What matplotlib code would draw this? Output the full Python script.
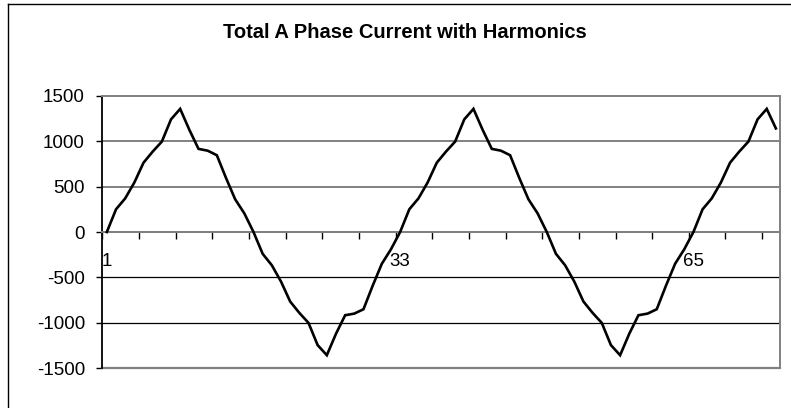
#!/usr/bin/env python3
import matplotlib
matplotlib.use("Agg")
import matplotlib.pyplot as plt
from matplotlib.lines import Line2D

plt.rcParams['font.family'] = ['Liberation Sans', 'DejaVu Sans']

# sample number (1-based categories) and phase A current
samples = list(range(1, 75))
current = [
    0, 250, 370, 545, 763, 885, 995, 1240, 1355, 1125, 915, 895, 845, 595, 360, 205,
    0, -240, -366, -545, -765, -890, -1000, -1245, -1356, -1120, -916, -898, -850, -592, -350, -190,
    0, 250, 370, 545, 763, 885, 995, 1240, 1355, 1125, 915, 895, 845, 595, 360, 205,
    0, -240, -366, -545, -765, -890, -1000, -1245, -1356, -1120, -916, -898, -850, -592, -350, -190,
    0, 250, 370, 545, 763, 885, 995, 1240, 1355, 1140,
]
x_labels = ["1", "33", "65"]
x_label_pos = [1, 33, 65]
y_ticks = [-1500, -1000, -500, 0, 500, 1000, 1500]

fig = plt.figure(figsize=(7.91, 4.08), dpi=100)
ax = fig.add_axes([0.1293, 0.0973, 0.8574, 0.6681])

# gridlines, upper ones look grey in the original, lower ones black
for v in [1000, 500, 0]:
    ax.axhline(v, color='#808080', lw=1.4, zorder=1)
for v in [-500, -1000]:
    ax.axhline(v, color='black', lw=0.9, zorder=1)

ax.plot(samples, current, color='black', lw=1.9, zorder=3, solid_joinstyle='miter')

ax.set_xlim(0.5, 74.5)
ax.set_ylim(-1500, 1500)

for side in ['top', 'right']:
    ax.spines[side].set_color('#808080')
    ax.spines[side].set_linewidth(1.4)
ax.spines['left'].set_color('black')
ax.spines['left'].set_linewidth(1.3)
ax.spines['bottom'].set_position(('data', 0))
ax.spines['bottom'].set_color('#808080')
ax.spines['bottom'].set_linewidth(1.4)
# bottom edge of plot area
ax.axhline(-1500, color='#808080', lw=1.6, zorder=2, clip_on=False)

ax.set_yticks(y_ticks)
ax.set_yticklabels([str(v) for v in y_ticks])
ax.tick_params(axis='y', direction='out', length=4.5, width=1.0, pad=8,
               labelsize=13.5, color='black')

ax.set_xticks([0.5 + 4 * k for k in range(19)])
ax.set_xticklabels([])
ax.tick_params(axis='x', which='major', direction='out', length=4.8, width=1.0,
               color='black')
ax.set_xticks(x_label_pos, minor=True)
ax.set_xticklabels(x_labels, minor=True)
ax.tick_params(axis='x', which='minor', length=0, pad=15, labelsize=13.5)

fig.text(0.512, 1 - 32 / 408, "Total A Phase Current with Harmonics",
         ha='center', va='center', fontsize=14.5, fontweight='bold')

# outer chart border (only left and top edges are visible)
fig.add_artist(Line2D([8 / 791, 8 / 791], [0, 1 - 4 / 408], color='black', lw=1.0,
                      transform=fig.transFigure))
fig.add_artist(Line2D([8 / 791, 1], [1 - 4 / 408, 1 - 4 / 408], color='black', lw=1.0,
                      transform=fig.transFigure))

fig.savefig("out.png", dpi=100)
